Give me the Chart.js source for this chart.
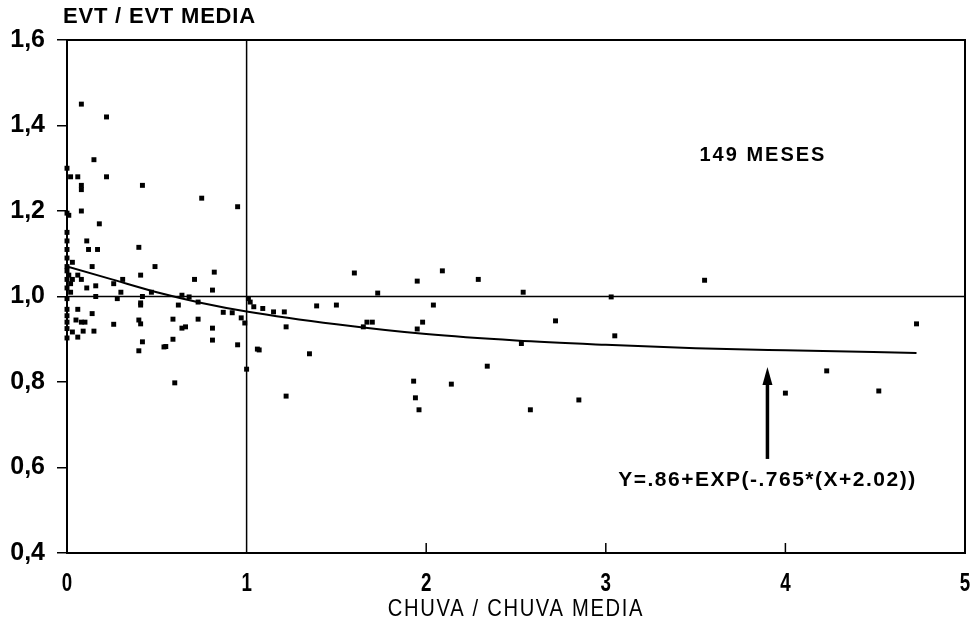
<!DOCTYPE html>
<html>
<head>
<meta charset="utf-8">
<script src="https://cdn.jsdelivr.net/npm/chart.js@4/dist/chart.umd.min.js"></script>
<style>
  html, body { margin: 0; padding: 0; background: #fff; }
  canvas { display: block; }
</style>
</head>
<body>
<canvas id="chartEvt" width="976" height="623"></canvas>
<script>
// valores (chuva/chuva media, evt/evt media)
const rainRatio = [
  0.08, 0.22, 0.15, 0.00, 0.02, 0.06, 0.22, 0.08, 0.08, 0.42, 0.75, 0.95,
  0.00, 0.01, 0.08, 0.18, 0.00, 0.00, 0.11, 0.40, 0.12, 0.17, 0.00, 0.00,
  0.03, 0.00, 0.14, 0.49, 0.00, 0.01, 0.06, 0.00, 0.08, 0.03, 0.02, 0.00,
  0.11, 0.16, 0.26, 0.31, 0.41, 0.02, 0.30, 0.47, 0.16, 0.42, 0.28, 0.00,
  0.41, 0.41, 0.00, 0.06, 0.00, 0.14, 0.00, 0.05, 0.08, 0.10, 0.26, 0.40,
  0.41, 0.00, 0.03, 0.09, 0.15, 0.06, 0.00, 0.42, 0.40, 0.54, 0.71, 0.82,
  0.81, 0.64, 0.68, 0.62, 0.73, 0.87, 0.92, 1.02, 1.04, 1.01, 0.97, 0.99,
  0.59, 0.73, 0.64, 0.66, 0.81, 0.59, 0.81, 0.95, 0.55, 1.06, 1.00, 0.60,
  1.60, 1.73, 1.95, 2.09, 2.29, 2.54, 1.09, 1.15, 1.21, 1.39, 1.50, 2.04,
  1.22, 1.67, 1.70, 1.65, 1.98, 1.95, 2.72, 1.07, 1.35, 2.34, 1.93, 1.94,
  1.96, 2.14, 2.58, 2.85, 1.22, 2.53, 3.55, 3.03, 3.05, 4.73, 4.23, 4.00,
  4.52
];
const evtRatio = [
  1.45, 1.42, 1.32, 1.30, 1.28, 1.28, 1.28, 1.26, 1.25, 1.26, 1.23, 1.21,
  1.195, 1.19, 1.20, 1.17, 1.15, 1.13, 1.13, 1.115, 1.11, 1.11, 1.11, 1.09,
  1.08, 1.07, 1.07, 1.07, 1.06, 1.05, 1.05, 1.04, 1.04, 1.04, 1.03, 1.02,
  1.02, 1.025, 1.03, 1.04, 1.05, 1.01, 1.01, 1.01, 1.00, 1.00, 0.995, 0.995,
  0.985, 0.98, 0.97, 0.97, 0.955, 0.96, 0.94, 0.945, 0.94, 0.94, 0.935, 0.945,
  0.936, 0.925, 0.917, 0.919, 0.919, 0.905, 0.903, 0.894, 0.873, 0.882, 1.04, 1.057,
  1.015, 1.003, 0.999, 0.98, 0.987, 0.963, 0.962, 0.987, 0.976, 0.995, 0.95, 0.938,
  0.947, 0.947, 0.926, 0.929, 0.926, 0.90, 0.898, 0.887, 0.883, 0.877, 0.83, 0.798,
  1.055, 1.008, 1.036, 1.06, 1.04, 1.01, 0.972, 0.964, 0.964, 0.978, 0.98, 0.98,
  0.929, 0.94, 0.94, 0.929, 0.94, 0.924, 0.943, 0.875, 0.866, 0.837, 0.802, 0.763,
  0.735, 0.795, 0.735, 0.758, 0.767, 0.89, 1.038, 0.999, 0.908, 0.936, 0.826, 0.774,
  0.779
];

// curva ajustada
const curveX = [0, 0.25, 0.5, 0.75, 1, 1.5, 2, 2.5, 3, 3.5, 4, 4.73];
const curveY = [1.07, 1.04, 1.01, 0.985, 0.965, 0.935, 0.912, 0.897, 0.887, 0.879, 0.874, 0.868];

// linhas de referencia (media)
const refHorizX = [0, 5];
const refHorizY = [1, 1];
const refVertX = [1, 1];
const refVertY = [0.4, 1.6];

const xTickLabels = ["0", "1", "2", "3", "4", "5"];
const yTickLabels = ["0,4", "0,6", "0,8", "1,0", "1,2", "1,4", "1,6"];

const yTitle = "EVT / EVT MEDIA";
const xTitle = "CHUVA / CHUVA MEDIA";
const noteText = "149 MESES";
const eqText = "Y=.86+EXP(-.765*(X+2.02))";
const arrowX = [3.9, 3.9];
const arrowY = [0.62, 0.835];

const pts = (xs, ys) => xs.map((x, i) => ({ x, y: ys[i] }));

// texto estreito (a fonte original e condensada)
function narrowText(ctx, txt, cx, cy, sx) {
  ctx.save();
  ctx.translate(cx, cy);
  ctx.scale(sx, 1);
  ctx.fillText(txt, 0, 0);
  ctx.restore();
}

const extras = {
  id: "extras",
  afterDraw(chart) {
    const { ctx, chartArea: a, scales: { x, y } } = chart;
    ctx.save();
    ctx.strokeStyle = "#000";
    ctx.fillStyle = "#000";
    // moldura superior e direita
    ctx.lineWidth = 2;
    ctx.beginPath();
    ctx.moveTo(a.left, a.top);
    ctx.lineTo(a.right, a.top);
    ctx.lineTo(a.right, a.bottom);
    ctx.stroke();
    // ticks internos no eixo x
    ctx.lineWidth = 1.5;
    [2, 3, 4].forEach((v) => {
      const px = x.getPixelForValue(v);
      ctx.beginPath();
      ctx.moveTo(px, a.bottom);
      ctx.lineTo(px, a.bottom - 10);
      ctx.stroke();
    });
    // seta
    const ax = x.getPixelForValue(arrowX[0]);
    const ay0 = y.getPixelForValue(arrowY[0]);
    const ay1 = y.getPixelForValue(arrowY[1]);
    ctx.lineWidth = 3.5;
    ctx.beginPath();
    ctx.moveTo(ax, ay0);
    ctx.lineTo(ax, ay1 + 14);
    ctx.stroke();
    ctx.beginPath();
    ctx.moveTo(ax, ay1);
    ctx.lineTo(ax - 5, ay1 + 18);
    ctx.lineTo(ax + 5, ay1 + 18);
    ctx.closePath();
    ctx.fill();
    // rotulos do eixo x
    ctx.textBaseline = "middle";
    ctx.textAlign = "center";
    ctx.font = "bold 25px 'Liberation Sans', Arial, sans-serif";
    xTickLabels.forEach((lbl, i) => {
      narrowText(ctx, lbl, x.getPixelForValue(i), a.bottom + 31, 0.75);
    });
    // textos
    ctx.textAlign = "left";
    ctx.font = "bold 22px 'Liberation Sans', Arial, sans-serif";
    ctx.letterSpacing = "0.8px";
    ctx.fillText(yTitle, 63, 17);
    ctx.textAlign = "center";
    ctx.font = "bold 20px 'Liberation Sans', Arial, sans-serif";
    ctx.letterSpacing = "2px";
    ctx.fillText(noteText, x.getPixelForValue(3.875), y.getPixelForValue(1.33));
    ctx.font = "bold 21px 'Liberation Sans', Arial, sans-serif";
    ctx.letterSpacing = "1.5px";
    ctx.fillText(eqText, x.getPixelForValue(3.9), y.getPixelForValue(0.571));
    ctx.font = "24px 'Liberation Sans', Arial, sans-serif";
    ctx.letterSpacing = "2px";
    ctx.lineWidth = 0.6;
    narrowText(ctx, xTitle, (a.left + a.right) / 2, a.bottom + 56, 0.84);
    ctx.restore();
  },
};

const canvas = document.getElementById("chartEvt");
new Chart(canvas.getContext("2d"), {
  type: "scatter",
  data: {
    datasets: [
      {
        label: "meses",
        data: pts(rainRatio, evtRatio),
        pointStyle: "rect",
        pointRadius: 3.5,
        pointBorderWidth: 0,
        backgroundColor: "#000",
        clip: false,
      },
      {
        label: "ajuste",
        data: pts(curveX, curveY),
        showLine: true,
        borderColor: "#000",
        borderWidth: 2,
        pointRadius: 0,
        cubicInterpolationMode: "monotone",
      },
      {
        label: "media evt",
        data: pts(refHorizX, refHorizY),
        showLine: true,
        borderColor: "#000",
        borderWidth: 1.5,
        pointRadius: 0,
      },
      {
        label: "media chuva",
        data: pts(refVertX, refVertY),
        showLine: true,
        borderColor: "#000",
        borderWidth: 1.5,
        pointRadius: 0,
      },
    ],
  },
  options: {
    responsive: false,
    animation: false,
    layout: { padding: { top: 40, right: 11, left: 0, bottom: 0 } },
    plugins: { legend: { display: false }, tooltip: { enabled: false } },
    scales: {
      x: {
        type: "linear",
        min: 0,
        max: 5,
        ticks: { stepSize: 1, display: false },
        grid: { display: true, drawOnChartArea: false, drawTicks: false },
        border: { color: "#000", width: 2 },
        afterFit: (s) => { s.height = 70; },
      },
      y: {
        min: 0.4,
        max: 1.6,
        ticks: {
          stepSize: 0.2,
          color: "#000",
          padding: 12,
          font: { family: "'Liberation Sans', Arial", size: 25, weight: "bold" },
          callback: (v, i) => yTickLabels[i],
        },
        grid: { drawOnChartArea: false, drawTicks: true, tickLength: 10, color: "#000", lineWidth: 1.5 },
        border: { color: "#000", width: 2 },
        afterFit: (s) => { s.width = 67; },
      },
    },
  },
  plugins: [extras],
});
</script>
</body>
</html>
